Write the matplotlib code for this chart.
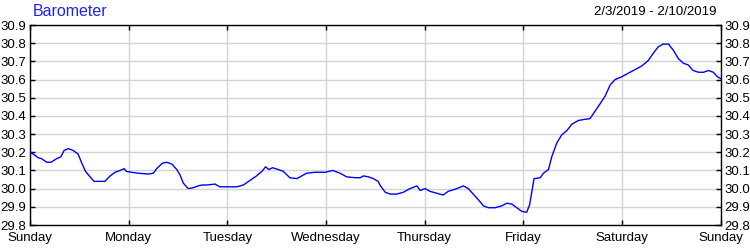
import numpy as np
import matplotlib
matplotlib.use("Agg")
import matplotlib.pyplot as plt

plt.rcParams["font.family"] = ["Liberation Sans", "DejaVu Sans"]

# Barometer readings: hours since Sunday 0:00, pressure (inHg)
hours = [
    0.0, 0.8, 2.0, 2.8, 4.1, 5.1, 6.5, 7.5, 8.3, 9.3, 10.5, 11.7, 12.6, 13.5,
    14.6, 15.6, 18.2, 19.5, 20.7, 21.9, 22.9, 23.4, 24.7, 26.3, 28.8, 30.0,
    30.8, 32.2, 33.3, 34.5, 35.7, 36.5, 37.3, 38.5, 39.7, 40.9, 41.8, 43.0,
    45.0, 46.2, 48.6, 50.3, 51.9, 53.5, 55.1, 56.4, 57.3, 58.1, 59.0, 60.4,
    61.6, 63.2, 64.9, 66.1, 67.3, 69.3, 71.8, 73.6, 75.4, 77.0, 79.1, 80.3,
    81.1, 82.3, 83.5, 84.7, 85.1, 86.4, 87.6, 89.2, 90.8, 92.4, 94.1, 94.9,
    96.1, 97.3, 98.9, 100.5, 101.7, 103.8, 105.4, 106.6, 107.8, 109.0, 110.3,
    111.5, 113.1, 114.7, 116.0, 117.2, 118.4, 119.6, 120.8, 121.5, 122.0,
    122.6, 124.1, 124.9, 126.1, 126.9, 128.1, 129.3, 130.6, 131.8, 133.4,
    134.6, 136.2, 137.4, 138.6, 139.9, 141.1, 142.3, 143.9, 145.5, 147.2,
    148.8, 150.4, 151.6, 152.8, 154.0, 155.3, 156.5, 157.7, 158.9, 160.1,
    161.3, 162.6, 163.8, 165.0, 166.2, 167.2, 168.0,
]
pressure = [
    30.20, 30.19, 30.17, 30.165, 30.145, 30.145, 30.165, 30.175, 30.21, 30.22,
    30.21, 30.19, 30.14, 30.095, 30.065, 30.04, 30.04, 30.07, 30.09, 30.10,
    30.11, 30.095, 30.09, 30.085, 30.08, 30.085, 30.11, 30.14, 30.145, 30.135,
    30.105, 30.075, 30.03, 30.00, 30.005, 30.015, 30.02, 30.02, 30.025, 30.01,
    30.01, 30.01, 30.02, 30.045, 30.07, 30.095, 30.12, 30.105, 30.115, 30.105,
    30.095, 30.06, 30.055, 30.07, 30.085, 30.09, 30.09, 30.10, 30.085, 30.065,
    30.06, 30.06, 30.07, 30.065, 30.055, 30.04, 30.02, 29.98, 29.97, 29.97,
    29.98, 30.00, 30.015, 29.99, 30.00, 29.985, 29.975, 29.965, 29.985, 30.00,
    30.015, 30.00, 29.97, 29.94, 29.905, 29.895, 29.895, 29.905, 29.92, 29.915,
    29.895, 29.875, 29.87, 29.91, 29.975, 30.055, 30.06, 30.085, 30.105, 30.175,
    30.25, 30.295, 30.32, 30.355, 30.375, 30.38, 30.385, 30.425, 30.465, 30.51,
    30.57, 30.60, 30.615, 30.635, 30.655, 30.675, 30.705, 30.745, 30.78, 30.795,
    30.795, 30.76, 30.715, 30.69, 30.68, 30.65, 30.64, 30.64, 30.65, 30.64,
    30.615, 30.605,
]

day_labels = ["Sunday", "Monday", "Tuesday", "Wednesday", "Thursday",
              "Friday", "Saturday", "Sunday"]
y_ticks = [29.8, 29.9, 30.0, 30.1, 30.2, 30.3, 30.4, 30.5, 30.6, 30.7, 30.8, 30.9]

fig = plt.figure(figsize=(7.5, 2.5), dpi=100)
ax = fig.add_axes([0.040, 0.10, 0.921, 0.80])

ax.plot(np.array(hours) / 24.0, pressure, color="#0000ff", linewidth=1.0,
        zorder=3)

ax.set_xlim(0, 7)
ax.set_ylim(29.8, 30.9)
ax.set_xticks(range(8))
ax.set_xticklabels(day_labels)
ax.set_yticks(y_ticks)
ax.set_yticklabels([f"{v:.1f}" for v in y_ticks])

ax.grid(True, color="#d3d3d3", linewidth=1.0)
ax.set_axisbelow(True)
for s in ax.spines.values():
    s.set_linewidth(1.0)
    s.set_color("black")

ax.tick_params(axis="both", direction="in", length=3.5, width=1.0,
               labelsize=9.5, top=True, right=True, labelright=True,
               colors="black")
ax.tick_params(axis="y", pad=2.5)
ax.tick_params(axis="x", pad=5)

fig.text(0.044, 0.955, "Barometer", color="#2020ff", fontsize=11.5,
         ha="left", va="center")
fig.text(0.956, 0.952, "2/3/2019 - 2/10/2019", color="black", fontsize=9.5,
         ha="right", va="center")

plt.savefig("out.png", dpi=100)
plt.close()
